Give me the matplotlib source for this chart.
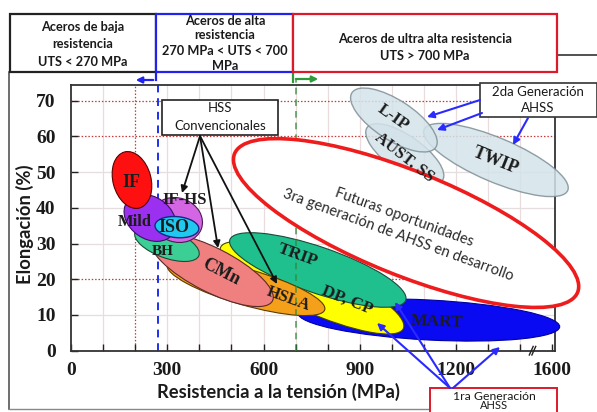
import matplotlib
matplotlib.use('Agg')
import matplotlib.pyplot as plt
from matplotlib.patches import Ellipse, Rectangle, FancyArrowPatch
from matplotlib.transforms import ScaledTranslation
from matplotlib.lines import Line2D

# ---------------- data ----------------
steel_names = ['MART', 'DP, CP', 'TRIP', 'HSLA', 'CMn', 'BH', 'Mild', 'IF-HS', 'ISO', 'IF',
               'AUST. SS', 'L-IP', 'TWIP']
steel_uts = [1115, 751, 769, 545, 439, 299, 246, 330, 330, 190, 1040, 1006, 1324]
steel_elong = [8.6, 17.6, 22.6, 17.8, 22.6, 29.9, 37.2, 36.6, 34.6, 47.8, 55.1, 64.6, 53.4]
label_uts = [1140, 860, 707, 676, 467, 287, 199, 355, 321, 187, 1037, 1003, 1324]
label_elong = [8.0, 14.2, 26.8, 14.5, 22.0, 27.9, 36.0, 42.2, 34.6, 47.2, 54.2, 65.4, 53.1]
future_uts = 1044
future_elong = 35.75
future_text = 'Futuras oportunidades\n3ra generación de AHSS en desarrollo'
x_ticks = [0, 300, 600, 900, 1200, 1500]
x_tick_labels = ['0', '300', '600', '900', '1200', '1600']
y_ticks = [0, 10, 20, 30, 40, 50, 60, 70]
uts_low = 270
uts_high = 700

# ---------------- styles ----------------
# name: (width px, height px, angle, face, edge, lw, zorder, alpha, label rotation, label size)
style = {
    'MART':     (262, 40, -3,  '#0a0af2', '#0000a0', 0.8, 3.0, 1.0, -2, 12.5),
    'DP, CP':   (200, 48, -24, '#ffff00', '#444400', 0.8, 3.1, 1.0, -22, 12.5),
    'TRIP':     (186, 46, -19, '#1fc08e', '#1a4a3a', 0.8, 3.2, 1.0, -20, 12.5),
    'HSLA':     (164, 36, -16, '#f5a01a', '#5a3a00', 0.8, 3.3, 1.0, -20, 12),
    'CMn':      (136, 44, -27, '#f08080', '#5a2a2a', 0.8, 3.4, 1.0, -27, 13),
    'BH':       (68, 28, -20,  '#3ccf95', '#1a4a3a', 0.8, 3.5, 1.0, 0, 11),
    'Mild':     (56, 42, -35,  '#9b30f0', '#3a1060', 0.8, 3.7, 1.0, 0, 12),
    'IF-HS':    (52, 44, -20,  '#d466e4', '#4a1a50', 0.8, 3.6, 1.0, 0, 12),
    'ISO':      (44, 21, -5,   '#20c8f0', '#102a80', 1.0, 3.8, 1.0, 0, 13),
    'IF':       (58, 38, 105,  '#ff1010', '#5a0000', 0.8, 3.9, 1.0, 0, 13),
    'AUST. SS': (92, 36, -35,  '#d4e3ea', '#7f8f96', 1.0, 3.0, 0.85, -38, 12),
    'L-IP':     (100, 40, -33, '#d4e3ea', '#7f8f96', 1.0, 3.2, 0.85, -35, 12.5),
    'TWIP':     (156, 44, -23, '#d4e3ea', '#7f8f96', 1.0, 3.1, 0.85, -22, 13),
}

W, H = 597, 412
fig = plt.figure(figsize=(W / 100, H / 100), dpi=100)
fig.patch.set_facecolor('white')

def fx(x):
    return x / W

def fy(y):
    return 1 - y / H

SERIF = ['Liberation Serif', 'DejaVu Serif']
SANS = ['Lato', 'DejaVu Sans']

ax = fig.add_axes([71 / W, 1 - 350.7 / H, 484 / W, 265.7 / H])
ax.set_xlim(0, 1508)
ax.set_ylim(0, 74.4)
ax.set_facecolor('white')

# grid
for gx in range(100, 1500, 100):
    if gx == 200:
        ax.axvline(gx, color='#c83a3a', lw=0.9, ls=(0, (1.2, 1.5)), zorder=1)
    else:
        ax.axvline(gx, color='#eadcdc', lw=0.9, zorder=1)
for gy in range(10, 71, 10):
    if gy in (20, 60, 70):
        ax.axhline(gy, color='#c83a3a', lw=0.9, ls=(0, (1.2, 1.5)), zorder=1)
    else:
        ax.axhline(gy, color='#e6dede', lw=0.9, zorder=1)

# boundaries
top_frac = (350.7 - 80) / 265.7
ax.axvline(uts_low, ymin=0, ymax=top_frac, color='#1f2ff0', lw=1.4, ls=(0, (4, 3)),
           zorder=1.5, clip_on=False)
ax.axvline(uts_high, ymin=0, ymax=top_frac, color='#2e8b3a', lw=1.2, ls=(0, (4, 3)),
           zorder=5, alpha=0.8, clip_on=False)

def blob(cx, cy, w, h, ang, fc, ec, lw, z, alpha):
    tr = fig.dpi_scale_trans + ScaledTranslation(cx, cy, ax.transData)
    e = Ellipse((0, 0), w / 100, h / 100, angle=ang, transform=tr, facecolor=fc,
                edgecolor=ec, lw=lw, zorder=z, alpha=alpha, clip_on=False)
    ax.add_patch(e)
    return e

for i, name in enumerate(steel_names):
    w, h, ang, fc, ec, lw, z, al, rot, fs = style[name]
    blob(steel_uts[i], steel_elong[i], w, h, ang, fc, ec, lw, z, al)
    ax.text(label_uts[i], label_elong[i], name, ha='center', va='center', rotation=rot,
            rotation_mode='anchor', family=SERIF, fontweight='bold', fontsize=fs,
            color='#1c1c1c', zorder=10)

# future opportunities ellipse
blob(future_uts, future_elong, 370, 104, -22, 'white', '#ee1c1c', 2.6, 6, 1.0)
ax.text(future_uts - 15, future_elong - 1.0, future_text, ha='center', va='center',
        rotation=-20, rotation_mode='anchor', family=SANS, fontsize=10.5,
        color='#2a2a2a', linespacing=1.45, zorder=7)

ax.set_xlim(0, 1508)
ax.set_ylim(0, 74.4)

# ticks & spines
ax.set_xticks(range(0, 1501, 100), minor=True)
ax.set_xticks(x_ticks)
ax.set_xticklabels(x_tick_labels)
ax.set_yticks(y_ticks)
ax.tick_params(axis='both', which='both', direction='in', length=5, width=1.0,
               color='#222222')
ax.tick_params(axis='x', which='major', pad=8)
ax.tick_params(axis='y', which='major', pad=11)
for lab in ax.get_xticklabels() + ax.get_yticklabels():
    lab.set_family(SERIF)
    lab.set_fontweight('bold')
    lab.set_fontsize(14)
    lab.set_color('#1a1a1a')
for s in ax.spines.values():
    s.set_color('#333333')
    s.set_linewidth(1.3)
    s.set_zorder(2.5)

# axis break mark
for dx in (-8, 0):
    ax.plot([1436 + dx, 1448 + dx], [-1.2, 1.2], transform=ax.transData, color='#222222',
            lw=1.0, clip_on=False, zorder=11)

# axis labels
fig.text(fx(278), fy(392), 'Resistencia a la tensión (MPa)', ha='center', va='center',
         family=SANS, fontweight='bold', fontsize=13.2, color='#1a1a1a')
fig.text(fx(25), fy(224), 'Elongación (%)', ha='center', va='center', rotation=90,
         family=SANS, fontweight='bold', fontsize=13.2, color='#1a1a1a')

# ---------------- banner ----------------
def frect(x0, y0, x1, y1, ec, lw=1.6, fc='white', z=20):
    r = Rectangle((fx(x0), fy(y1)), fx(x1) - fx(x0), fy(y0) - fy(y1), transform=fig.transFigure,
                  facecolor=fc, edgecolor=ec, lw=lw, zorder=z)
    fig.add_artist(r)

frect(10, 14, 156, 72, '#222222')
frect(156, 14, 293, 72, '#2222ee')
frect(293, 14, 557, 72, '#dd1a2a')
fig.add_artist(Line2D([fx(557), fx(597)], [fy(55), fy(55)], color='#333333', lw=1.2))
fig.add_artist(Line2D([fx(9), fx(9)], [fy(72), fy(409)], color='#555555', lw=1.2))
fig.add_artist(Line2D([fx(9), fx(430)], [fy(409), fy(409)], color='#888888', lw=1.0))

def btxt(x, y, s, fs=9.2, weight='bold', color='#1a1a1a', z=21):
    fig.text(fx(x), fy(y), s, ha='center', va='center', family=SANS, fontweight=weight,
             fontsize=fs, color=color, zorder=z)

btxt(83, 27, 'Aceros de baja')
btxt(83, 44, 'resistencia')
btxt(83, 62, 'UTS < 270 MPa')
btxt(225, 21, 'Aceros de alta')
btxt(225, 35, 'resistencia')
btxt(225, 51, '270 MPa < UTS < 700')
btxt(225, 66, 'MPa')
btxt(425, 39, 'Aceros de ultra alta resistencia')
btxt(425, 56, 'UTS > 700 MPa')

# bent arrows below banner
fig.add_artist(Line2D([fx(156), fx(156)], [fy(72), fy(80)], color='#2222ee', lw=1.6))
fig.add_artist(FancyArrowPatch((fx(156), fy(80)), (fx(133), fy(80)), transform=fig.transFigure,
                               arrowstyle='-|>', mutation_scale=9, color='#2222ee', lw=1.6))
fig.add_artist(Line2D([fx(293), fx(293)], [fy(72), fy(82)], color='#2e9b3a', lw=1.6))
fig.add_artist(FancyArrowPatch((fx(293), fy(79)), (fx(321), fy(79)), transform=fig.transFigure,
                               arrowstyle='-|>', mutation_scale=9, color='#2e9b3a', lw=1.6))

# ---------------- annotation boxes ----------------
def arrow(p0, p1, color, lw=1.3, head=True, z=15):
    a = FancyArrowPatch((fx(p0[0]), fy(p0[1])), (fx(p1[0]), fy(p1[1])),
                        transform=fig.transFigure, arrowstyle='-|>' if head else '-',
                        mutation_scale=10, color=color, lw=lw, zorder=z,
                        shrinkA=0, shrinkB=0)
    fig.add_artist(a)

# HSS Convencionales
frect(162, 100, 278, 135, '#222222', lw=1.2, z=14)
btxt(220, 108, 'HSS', fs=9.5, weight='normal', z=15)
btxt(220, 126, 'Convencionales', fs=9.5, weight='normal', z=15)
for tgt in [(182, 193), (218, 248), (277, 284)]:
    arrow((200, 136), tgt, '#111111')

# 2da Generacion
frect(480, 83, 597, 117, '#333333', lw=1.2, z=14)
btxt(538, 92, '2da Generación', fs=9.5, weight='normal', z=15)
btxt(538, 108, 'AHSS', fs=9.5, weight='normal', z=15)
arrow((480, 100), (427, 117), '#2a2aff', lw=1.5)
arrow((482, 113), (437, 130), '#2a2aff', lw=1.5)
arrow((528, 118), (513, 145), '#2a2aff', lw=1.5)

# 1ra Generacion
frect(430, 388, 557, 425, '#dd1a2a', lw=1.4, z=14)
btxt(494, 396, '1ra Generación', fs=8.8, weight='normal', z=15)
btxt(494, 405.5, 'AHSS', fs=8.0, weight='normal', z=15)
arrow((450, 388), (377, 323), '#2a2aff', lw=1.5)
arrow((450, 388), (395, 302), '#2a2aff', lw=1.5)
arrow((453, 388), (500, 347), '#2a2aff', lw=1.5)

fig.savefig('out.png', dpi=100, facecolor='white')
